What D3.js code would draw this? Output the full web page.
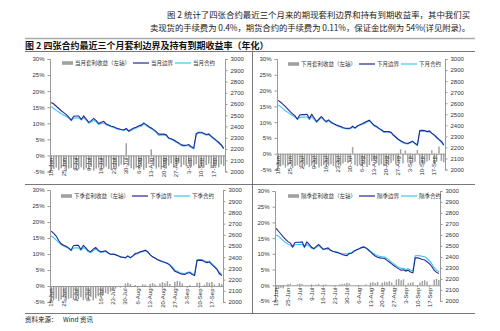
<!DOCTYPE html>
<html><head><meta charset="utf-8">
<script src="https://cdn.jsdelivr.net/npm/d3@7"></script>
<style>
html,body{margin:0;padding:0;background:#fff;}
svg{display:block;}
text{font-family:"Liberation Sans","Noto Sans CJK SC",sans-serif;}
.cjk{font-family:"Noto Sans CJK SC","Liberation Sans",sans-serif;}
</style></head>
<body>
<svg id="c" width="500" height="331"></svg>
<script>
// ---------------- data ----------------
const categories = [
"18-Jun","19-Jun","20-Jun","21-Jun","22-Jun","25-Jun","26-Jun","27-Jun","28-Jun","29-Jun",
"2-Jul","3-Jul","4-Jul","5-Jul","6-Jul","9-Jul","10-Jul","11-Jul","12-Jul","13-Jul",
"16-Jul","17-Jul","18-Jul","19-Jul","20-Jul","23-Jul","24-Jul","25-Jul","26-Jul","27-Jul",
"30-Jul","31-Jul","1-Aug","2-Aug","3-Aug","6-Aug","7-Aug","8-Aug","9-Aug","10-Aug",
"13-Aug","14-Aug","15-Aug","16-Aug","17-Aug","20-Aug","21-Aug","22-Aug","23-Aug","24-Aug",
"27-Aug","28-Aug","29-Aug","30-Aug","31-Aug","3-Sep","4-Sep","5-Sep","6-Sep","7-Sep",
"10-Sep","11-Sep","12-Sep","13-Sep","14-Sep","17-Sep","18-Sep","19-Sep","20-Sep","21-Sep"];
const tickLabels = ["18-Jun","25-Jun","2-Jul","9-Jul","16-Jul","23-Jul","30-Jul","6-Aug","13-Aug","20-Aug","27-Aug","3-Sep","10-Sep","17-Sep"];
const leftTicks = [-0.05,0,0.05,0.10,0.15,0.20,0.25,0.30];
const rightTicks = [2000,2100,2200,2300,2400,2500,2600,2700,2800,2900,3000];

// 当月
const curReturn = [
-0.045,-0.042,-0.038,-0.046,-0.040,-0.035,-0.048,-0.041,-0.039,-0.044,
-0.046,-0.042,-0.037,-0.045,-0.040,-0.043,-0.036,-0.047,-0.041,-0.038,
-0.044,-0.040,-0.035,-0.042,-0.046,-0.039,-0.041,-0.034,-0.028,-0.030,
0.038,-0.032,-0.040,-0.044,-0.038,-0.042,-0.036,-0.045,-0.039,-0.026,
0.019,-0.033,-0.041,-0.037,-0.043,-0.035,-0.040,-0.032,-0.025,-0.038,
-0.030,-0.024,-0.036,-0.029,-0.033,-0.022,-0.035,-0.031,-0.027,-0.040,
-0.034,-0.038,-0.030,-0.026,-0.039,-0.035,-0.031,-0.037,-0.028,-0.033];
const curBound = [
2614,2600,2580,2560,2540,2523,2506,2483,2457,2492,
2494,2494,2463,2494,2466,2437,2452,2472,2452,2426,
2437,2446,2423,2414,2403,2397,2386,2380,2374,2369,
2383,2360,2374,2386,2394,2406,2412,2432,2417,2400,
2386,2372,2354,2332,2332,2332,2326,2297,2292,2280,
2266,2254,2237,2232,2234,2240,2220,2209,2337,2349,
2349,2340,2329,2334,2314,2297,2277,2260,2237,2206];
const curContract = [
2577,2560,2543,2529,2514,2503,2489,2474,2452,2474,
2477,2477,2457,2480,2457,2429,2440,2457,2440,2417,
2426,2432,2414,2406,2397,2392,2380,2374,2372,2366,
2374,2354,2366,2377,2386,2397,2403,2420,2409,2394,
2380,2366,2346,2320,2323,2323,2320,2292,2286,2274,
2260,2249,2232,2226,2229,2229,2212,2200,2329,2340,
2340,2334,2323,2326,2306,2289,2272,2252,2229,2200];

// 下月
const nextReturn = [
-0.043,-0.040,-0.036,-0.044,-0.038,-0.033,-0.045,-0.039,-0.037,-0.042,
-0.044,-0.040,-0.035,-0.042,-0.038,-0.040,-0.034,-0.044,-0.039,-0.036,
-0.041,-0.038,-0.033,-0.039,-0.043,-0.036,-0.038,-0.031,-0.026,-0.028,
-0.022,0.021,-0.036,-0.040,-0.035,-0.039,-0.033,-0.042,-0.036,-0.024,
-0.020,-0.030,-0.037,-0.034,-0.039,-0.032,-0.036,-0.029,-0.022,-0.034,
-0.026,0.014,-0.031,0.010,-0.028,-0.018,-0.030,-0.026,0.012,-0.034,
-0.029,-0.032,-0.025,-0.021,0.011,-0.030,-0.026,0.023,-0.023,-0.027];
const nextBound = [
2626,2609,2589,2569,2546,2523,2503,2486,2457,2494,
2497,2497,2500,2463,2500,2466,2434,2457,2480,2454,
2434,2449,2429,2417,2406,2397,2389,2380,2374,2372,
2374,2392,2377,2394,2406,2414,2426,2437,2446,2423,
2400,2389,2372,2360,2343,2343,2343,2337,2312,2294,
2274,2260,2249,2240,2237,2246,2257,2237,2223,2352,
2354,2352,2343,2349,2329,2314,2292,2272,2254,2223];
const nextContract = [
2583,2569,2549,2532,2517,2503,2489,2474,2452,2472,
2474,2474,2477,2452,2480,2454,2426,2449,2469,2446,
2426,2440,2423,2412,2400,2392,2383,2374,2369,2366,
2369,2383,2372,2389,2400,2409,2417,2429,2437,2417,
2394,2383,2366,2354,2337,2340,2340,2332,2309,2289,
2272,2254,2243,2234,2232,2240,2252,2232,2217,2346,
2352,2349,2340,2343,2326,2309,2286,2266,2246,2217];

// 下季
const qtrReturn = [
-0.048,-0.045,-0.040,-0.047,-0.042,-0.036,-0.046,-0.040,-0.038,-0.043,
-0.045,-0.041,-0.035,-0.044,-0.039,-0.042,-0.034,-0.045,-0.038,-0.032,
-0.036,-0.028,-0.022,-0.025,-0.018,-0.012,-0.008,0,-0.005,0,
0.008,0.010,0.006,0,0.003,0,0,0.005,0.004,0,
0.007,0.009,0.005,0,0.008,0.012,0.009,0.015,0.006,0,
0.013,0.016,0.014,0.008,0,0,0.003,0,0,0.010,
0.011,0,0.004,0.012,0.010,0.013,0.005,0,0.009,0.006];
const qtrBound = [
2632,2612,2589,2549,2520,2506,2497,2483,2463,2503,
2506,2506,2469,2506,2483,2457,2449,2472,2486,2463,
2449,2452,2457,2440,2426,2429,2423,2414,2403,2400,
2394,2412,2394,2412,2432,2437,2449,2454,2463,2449,
2423,2403,2392,2377,2369,2360,2352,2343,2329,2303,
2274,2266,2254,2249,2246,2257,2263,2246,2237,2372,
2374,2372,2360,2352,2357,2334,2314,2292,2254,2237];
const qtrContract = [
2589,2574,2552,2532,2514,2500,2489,2477,2457,2480,
2483,2483,2463,2486,2472,2449,2440,2460,2474,2454,
2440,2446,2452,2434,2423,2426,2420,2412,2403,2400,
2397,2409,2397,2409,2426,2432,2443,2449,2457,2446,
2420,2403,2392,2380,2372,2363,2354,2349,2334,2312,
2286,2274,2263,2257,2254,2263,2269,2254,2246,2374,
2380,2377,2369,2360,2366,2343,2323,2300,2266,2246];

// 隔季
const farReturn = [
-0.015,-0.012,-0.008,-0.010,0,0.004,0.005,0,0,0.003,
0.005,0.004,0,0,0,0.003,0,0.002,0.004,0,
0.002,0.003,0,0,0,0,0,0.003,0.004,0.005,
0.008,0.006,0,0,0,0,0,0,0.003,0,
0.009,0.010,0.007,0.011,0,0.008,0.012,0.010,0.013,0.009,
0,0.018,0.020,0.016,0.019,0,0.006,0.008,0.010,0,
0,0.009,0.014,0.016,0.012,0,0,0.018,0.021,0.017];
const farBound = [
2660,2634,2609,2583,2560,2540,2526,2494,2532,2534,
2534,2537,2494,2537,2514,2489,2477,2497,2514,2492,
2469,2477,2483,2463,2452,2446,2440,2432,2423,2417,
2412,2432,2434,2452,2463,2472,2483,2492,2483,2466,
2446,2426,2409,2397,2392,2389,2386,2369,2354,2337,
2320,2306,2292,2280,2283,2272,2280,2263,2257,2392,
2392,2386,2377,2372,2357,2340,2314,2280,2260,2249];
const farContract = [
2600,2589,2569,2549,2532,2517,2506,2486,2512,2514,
2514,2514,2486,2514,2500,2480,2472,2489,2503,2486,
2466,2472,2474,2460,2452,2449,2443,2437,2432,2429,
2426,2437,2440,2454,2466,2474,2483,2492,2486,2472,
2454,2437,2423,2412,2406,2403,2400,2386,2372,2354,
2337,2320,2306,2297,2297,2286,2294,2280,2274,2412,
2414,2412,2406,2403,2386,2366,2337,2303,2283,2266];

const contractNames = ["当月","下月","下季","隔季"];
const seriesSuffix = ["套利收益（左轴）","边界","合约"];

// ---------------- layout ----------------
const panels = [
  {name:contractNames[0], ret:curReturn,  bound:curBound,  con:curContract,  x0:50,  x1:225, yT:59,  yB:171.5, leg:{x:62, y:63}},
  {name:contractNames[1], ret:nextReturn, bound:nextBound, con:nextContract, x0:277, x1:445, yT:59,  yB:169.5, leg:{x:288,y:64}},
  {name:contractNames[2], ret:qtrReturn,  bound:qtrBound,  con:qtrContract,  x0:50,  x1:223, yT:190, yB:302,   leg:{x:61, y:196}},
  {name:contractNames[3], ret:farReturn,  bound:farBound,  con:farContract,  x0:275, x1:440, yT:191, yB:301,   leg:{x:288,y:196}}
];
const COL_DARK = "#25259a", COL_LIGHT = "#3cc6ee", COL_BAR = "#a0a0a0", COL_AXIS="#9a9a9a", COL_TXT="#333";

const svg = d3.select("#c");

// header text
svg.append("text").attr("class","cjk").attr("x",167).attr("y",17.5).attr("font-size",8.4).attr("fill","#222")
  .attr("textLength",303).attr("lengthAdjust","spacing")
  .text("图 2 统计了四张合约最近三个月来的期现套利边界和持有到期收益率，其中我们买");
svg.append("text").attr("class","cjk").attr("x",150).attr("y",30.5).attr("font-size",8.4).attr("fill","#222")
  .attr("textLength",320).attr("lengthAdjust","spacing")
  .text("卖现货的手续费为 0.4%，期货合约的手续费为 0.11%，保证金比例为 54%(详见附录)。");

// frame lines
svg.append("line").attr("x1",25).attr("x2",475).attr("y1",38.5).attr("y2",38.5).attr("stroke","#aaa").attr("stroke-width",1.5);
svg.append("text").attr("class","cjk").attr("x",25).attr("y",48.5).attr("font-size",9).attr("font-weight","bold").attr("fill","#111")
  .text("图 2 四张合约最近三个月套利边界及持有到期收益率（年化）");
svg.append("line").attr("x1",25).attr("x2",475).attr("y1",51.5).attr("y2",51.5).attr("stroke","#555").attr("stroke-width",0.8);
svg.append("line").attr("x1",25).attr("x2",475).attr("y1",184.5).attr("y2",184.5).attr("stroke","#555").attr("stroke-width",0.8);
svg.append("line").attr("x1",25).attr("x2",475).attr("y1",313.5).attr("y2",313.5).attr("stroke","#555").attr("stroke-width",0.8);
svg.append("line").attr("x1",252.5).attr("x2",252.5).attr("y1",51.5).attr("y2",313.5).attr("stroke","#555").attr("stroke-width",0.8);
svg.append("text").attr("class","cjk").attr("x",25).attr("y",322).attr("font-size",6.5).attr("fill","#222").text("资料来源：");
svg.append("text").attr("class","cjk").attr("x",63).attr("y",322).attr("font-size",6.5).attr("fill","#222").text("Wind 资讯");

panels.forEach(p => {
  const g = svg.append("g");
  const x = d3.scaleBand().domain(categories).range([p.x0,p.x1]).paddingInner(0.4).paddingOuter(0.2);
  const yL = d3.scaleLinear().domain([-0.05,0.30]).range([p.yB,p.yT]);
  const yR = d3.scaleLinear().domain([2000,3000]).range([p.yB,p.yT]);

  // bars
  g.append("g").selectAll("rect").data(p.ret).join("rect")
    .attr("x",(d,i)=>x(categories[i]))
    .attr("width",x.bandwidth())
    .attr("y",d=>Math.min(yL(d),yL(0)))
    .attr("height",d=>Math.abs(yL(d)-yL(0)))
    .attr("fill",COL_BAR);

  // left axis
  const la = g.append("g").attr("transform",`translate(${p.x0},0)`)
    .call(d3.axisLeft(yL).tickValues(leftTicks).tickSize(2.5).tickPadding(3)
      .tickFormat(d=>Math.round(d*100)+"%"));
  la.select(".domain").attr("stroke",COL_AXIS);
  la.selectAll(".tick line").attr("stroke",COL_AXIS);
  la.selectAll("text").attr("font-size",6).attr("fill",COL_TXT).attr("font-family","Liberation Sans");

  // right axis
  const ra = g.append("g").attr("transform",`translate(${p.x1},0)`)
    .call(d3.axisRight(yR).tickValues(rightTicks).tickSize(2.5).tickPadding(3).tickFormat(d3.format("d")));
  ra.select(".domain").attr("stroke",COL_AXIS);
  ra.selectAll(".tick line").attr("stroke",COL_AXIS);
  ra.selectAll("text").attr("font-size",6).attr("fill",COL_TXT).attr("font-family","Liberation Sans");

  // category axis at 0%
  const xa = g.append("g").attr("transform",`translate(0,${yL(0)})`)
    .call(d3.axisBottom(x).tickValues(tickLabels).tickSize(2).tickPadding(2));
  xa.select(".domain").attr("stroke",COL_AXIS);
  xa.selectAll(".tick line").attr("stroke",COL_AXIS);
  xa.selectAll("text").attr("font-size",6).attr("fill",COL_TXT).attr("font-family","Liberation Sans")
    .attr("text-anchor","end").attr("dy","0.35em").attr("dx",0)
    .attr("y",0).attr("x",-2.5)
    .attr("transform","rotate(-90)");

  // lines
  const line = d3.line().x((d,i)=>x(categories[i])+x.bandwidth()/2).y(d=>yR(d));
  g.append("path").datum(p.con).attr("d",line).attr("fill","none").attr("stroke",COL_LIGHT).attr("stroke-width",1.1);
  g.append("path").datum(p.bound).attr("d",line).attr("fill","none").attr("stroke",COL_DARK).attr("stroke-width",1.1);

  // legend
  const lg = g.append("g").attr("transform",`translate(${p.leg.x},${p.leg.y})`);
  lg.append("rect").attr("x",0).attr("y",-1.8).attr("width",11).attr("height",3.6).attr("fill",COL_BAR);
  lg.append("text").attr("class","cjk").attr("x",13).attr("y",2).attr("font-size",5.5).attr("fill",COL_TXT)
    .text(p.name+seriesSuffix[0]);
  lg.append("line").attr("x1",71).attr("x2",87).attr("y1",0).attr("y2",0).attr("stroke",COL_DARK).attr("stroke-width",1.2);
  lg.append("text").attr("class","cjk").attr("x",89).attr("y",2).attr("font-size",5.5).attr("fill",COL_TXT)
    .text(p.name+seriesSuffix[1]);
  lg.append("line").attr("x1",113).attr("x2",129).attr("y1",0).attr("y2",0).attr("stroke",COL_LIGHT).attr("stroke-width",1.2);
  lg.append("text").attr("class","cjk").attr("x",131).attr("y",2).attr("font-size",5.5).attr("fill",COL_TXT)
    .text(p.name+seriesSuffix[2]);
});
</script>
</body></html>
